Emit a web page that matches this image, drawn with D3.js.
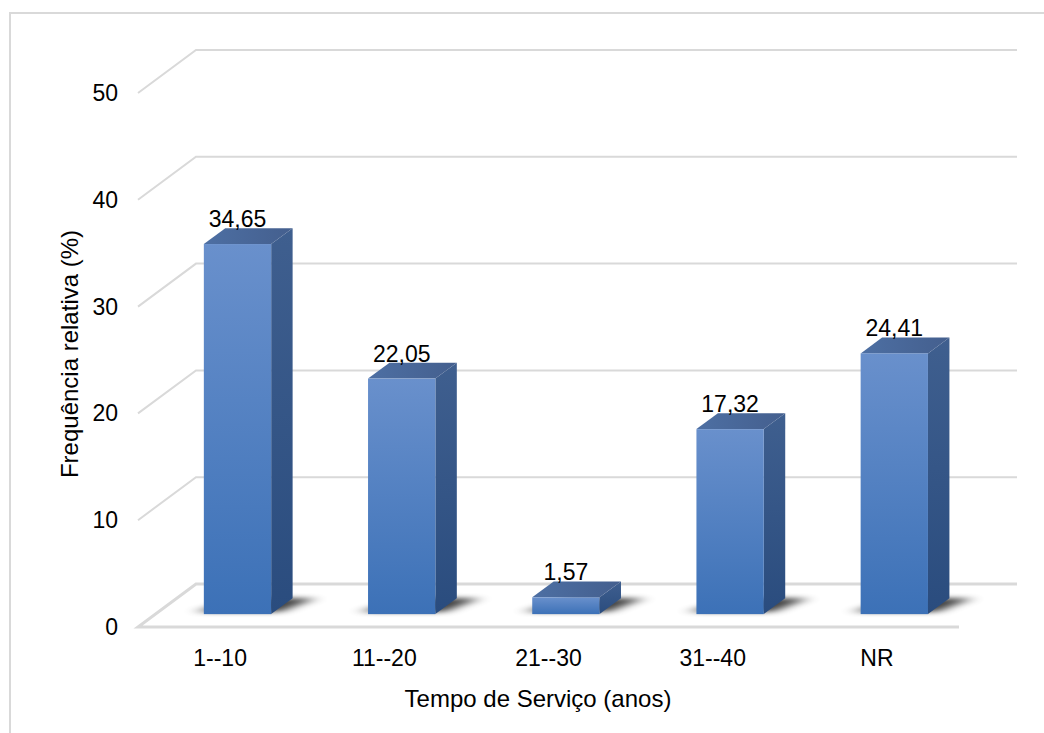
<!DOCTYPE html>
<html>
<head>
<meta charset="utf-8">
<script src="https://cdn.jsdelivr.net/npm/d3@7"></script>
<style>
  html, body { margin: 0; padding: 0; background: #fff; }
  svg { display: block; }
  text { font-family: "Liberation Sans", Arial, sans-serif; fill: #000; }
</style>
</head>
<body>
<svg id="chart" width="1044" height="733"></svg>
<script>
// Service time groups and their relative frequencies (%)
const categories = ["1--10", "11--20", "21--30", "31--40", "NR"];
const values = [34.65, 22.05, 1.57, 17.32, 24.41];
const valueLabels = ["34,65", "22,05", "1,57", "17,32", "24,41"];
const yTicks = [0, 10, 20, 30, 40, 50];
const xTitle = "Tempo de Serviço (anos)";
const yTitle = "Frequência relativa (%)";

const svg = d3.select("#chart");
const W = 1044, H = 733;
const FS = 23, FT = 24;

// Front plane of the 3D plot box and depth offset of the back wall
const front = { left: 138, right: 959, bottom: 627, top: 93 };
const DX = 58, DY = 43;
const depthFront = 0.3, depthBack = 0.67;
const barFrac = 0.41;

const x = d3.scaleBand().domain(categories).range([front.left, front.right]);
const y = d3.scaleLinear().domain([0, 50]).range([front.bottom, front.top]);

// project (screen x on front plane, value, depth 0..1) to screen coordinates
const P = (px, v, d) => [px + d * DX, y(v) - d * DY];

const defs = svg.append("defs");
const gFront = defs.append("linearGradient").attr("id", "gFront")
  .attr("x1", 0).attr("y1", 0).attr("x2", 0).attr("y2", 1);
gFront.append("stop").attr("offset", 0).attr("stop-color", "#6990cc");
gFront.append("stop").attr("offset", 1).attr("stop-color", "#3c71b7");
const gSide = defs.append("linearGradient").attr("id", "gSide")
  .attr("x1", 0).attr("y1", 0).attr("x2", 0).attr("y2", 1);
gSide.append("stop").attr("offset", 0).attr("stop-color", "#3f5f8f");
gSide.append("stop").attr("offset", 1).attr("stop-color", "#2a4c7e");
const gTop = defs.append("linearGradient").attr("id", "gTop")
  .attr("x1", 0).attr("y1", 0).attr("x2", 1).attr("y2", 0);
gTop.append("stop").attr("offset", 0).attr("stop-color", "#4d6fa3");
gTop.append("stop").attr("offset", 1).attr("stop-color", "#445f8e");
const blur = defs.append("filter").attr("id", "shadowBlur")
  .attr("x", "-50%").attr("y", "-100%").attr("width", "200%").attr("height", "300%");
blur.append("feGaussianBlur").attr("stdDeviation", "8 2.5");

// chart area border
svg.append("rect").attr("x", 10).attr("y", 13).attr("width", W).attr("height", H)
  .attr("fill", "none").attr("stroke", "#d9d9d9").attr("stroke-width", 2);

const line = d3.line();
const grid = svg.append("g").attr("fill", "none").attr("stroke", "#d9d9d9").attr("stroke-width", 2);

// side and back wall gridlines
yTicks.filter(v => v > 0).forEach(v => {
  grid.append("path").attr("d", line([P(front.left, v, 0), P(front.left, v, 1), P(front.right, v, 1)]));
});
// floor outline
grid.append("path").attr("d", line([P(front.right, 0, 1), P(front.left, 0, 1), P(front.left, 0, 0), P(front.right, 0, 0)]))
  .attr("stroke-width", 3);

// y tick labels
svg.append("g").selectAll("text").data(yTicks).join("text")
  .attr("x", front.left - 20).attr("y", d => y(d)).attr("dy", "0.35em")
  .attr("text-anchor", "end").attr("font-size", FS).text(d => d);

// x category labels
svg.append("g").selectAll("text").data(categories).join("text")
  .attr("x", d => x(d) + x.bandwidth() / 2).attr("y", 666)
  .attr("text-anchor", "middle").attr("font-size", FS).text(d => d);

// axis titles
svg.append("text").attr("x", 538).attr("y", 707).attr("text-anchor", "middle")
  .attr("font-size", FT).text(xTitle);
svg.append("text").attr("transform", "translate(78,354) rotate(-90)")
  .attr("text-anchor", "middle").attr("font-size", FT).text(yTitle);

// bars
const bw = x.bandwidth() * barFrac;
const bars = svg.append("g");
categories.forEach((c, i) => {
  const v = values[i];
  const cx = x(c) + x.bandwidth() / 2;
  const l = cx - bw / 2, r = cx + bw / 2;
  const g = bars.append("g");
  // floor shadow
  g.append("path").attr("filter", "url(#shadowBlur)").attr("fill", "#000").attr("opacity", 0.75)
    .attr("d", line([P(l - 10, 0, depthFront + 0.05), P(r + 6, 0, depthFront + 0.05),
                     P(r + 22, 0, depthBack), P(l + 14, 0, depthBack)]) + "Z");
  // right side face
  g.append("path").attr("fill", "url(#gSide)")
    .attr("d", line([P(r, 0, depthFront), P(r, 0, depthBack), P(r, v, depthBack), P(r, v, depthFront)]) + "Z");
  // top face
  g.append("path").attr("fill", "url(#gTop)")
    .attr("d", line([P(l, v, depthFront), P(r, v, depthFront), P(r, v, depthBack), P(l, v, depthBack)]) + "Z");
  // front face
  const f0 = P(l, v, depthFront), f1 = P(r, 0, depthFront);
  g.append("rect").attr("fill", "url(#gFront)")
    .attr("x", f0[0]).attr("y", f0[1]).attr("width", f1[0] - f0[0]).attr("height", f1[1] - f0[1]);
  // value label
  const lb = P(cx, v, depthBack);
  g.append("text").attr("x", P(cx, v, depthFront)[0]).attr("y", lb[1] - 1)
    .attr("text-anchor", "middle").attr("font-size", FS).text(valueLabels[i]);
});
</script>
</body>
</html>
